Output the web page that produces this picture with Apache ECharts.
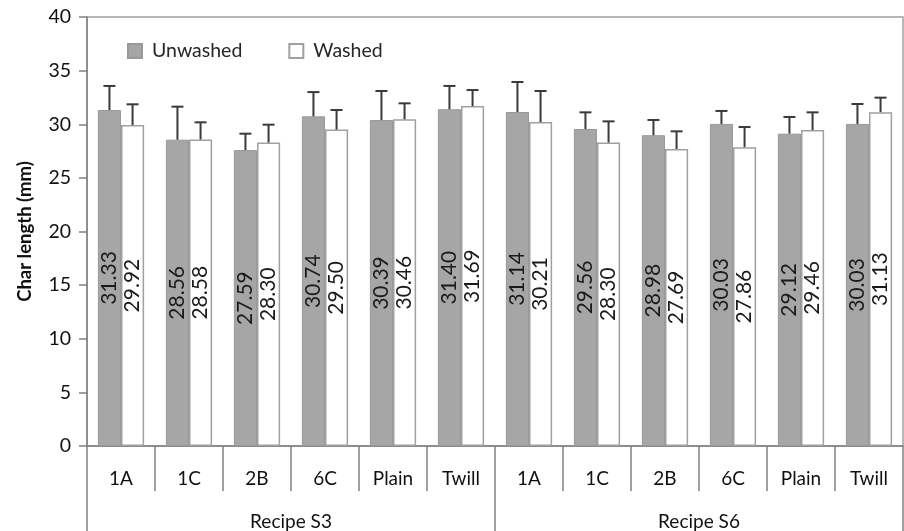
<!DOCTYPE html>
<html>
<head>
<meta charset="utf-8">
<script src="https://cdn.jsdelivr.net/npm/echarts@6/dist/echarts.min.js"></script>
<style>html,body{margin:0;padding:0;background:#fff}#c{width:904px;height:531px}</style>
</head>
<body>
<div id="c"></div>
<script>
const categories = ['1A','1C','2B','6C','Plain','Twill','1A','1C','2B','6C','Plain','Twill'];
const groups = ['Recipe S3','Recipe S6'];
const unwashed = [31.33,28.56,27.59,30.74,30.39,31.40,31.14,29.56,28.98,30.03,29.12,30.03];
const washed = [29.92,28.58,28.30,29.50,30.46,31.69,30.21,28.30,27.69,27.86,29.46,31.13];
const unwashedErr = [2.24,3.08,1.53,2.26,2.71,2.17,2.80,1.55,1.42,1.21,1.56,1.86];
const washedErr = [1.94,1.60,1.66,1.83,1.49,1.50,2.89,1.97,1.65,1.88,1.65,1.35];
const yTicks = {min:0,max:40,interval:5};

const FONT = 'Lato';
const chart = echarts.init(document.getElementById('c'));

function errSeries(name, vals, errs, side){
  return {
    type:'custom', name: name+' err', z:5, silent:true,
    data: vals.map((v,i)=>[i, v, v+errs[i]]),
    encode:{x:0,y:[1,2]},
    renderItem:function(params, api){
      const i = api.value(0);
      const bw = api.size([1,0])[0];
      const p0 = api.coord([i, api.value(1)]);
      const p1 = api.coord([i, api.value(2)]);
      const x = p0[0] + side*bw*0.17;
      const cap = 6;
      const st = {stroke:'#3a3a3a', lineWidth:2};
      return {type:'group', children:[
        {type:'line', shape:{x1:x,y1:p0[1],x2:x,y2:p1[1]}, style:st},
        {type:'line', shape:{x1:x-cap,y1:p1[1],x2:x+cap,y2:p1[1]}, style:st}
      ]};
    }
  };
}

const labelCfg = {
  show:true, position:'inside', rotate:90, fontFamily:FONT, fontSize:21, color:'#1a1a1a',
  formatter:p=>Number(p.value).toFixed(2)
};

chart.setOption({
  animation:false,
  textStyle:{fontFamily:FONT},
  grid:{left:87,right:1,top:17,bottom:85,show:true,borderColor:'#a0a0a0',borderWidth:1.5,containLabel:false},
  legend:{
    top:36,left:122,itemWidth:14,itemHeight:14,itemGap:46,
    textStyle:{fontFamily:FONT,fontSize:19.5,color:'#262626',padding:[0,0,0,5]},
    data:[{name:'Unwashed',icon:'rect'},{name:'Washed',icon:'rect'}]
  },
  xAxis:[
    {type:'category', data:categories, position:'bottom',
     axisLine:{lineStyle:{color:'#808080',width:1.5}},
     axisTick:{show:true,interval:0,length:45,alignWithLabel:false,lineStyle:{color:'#808080',width:1.5}},
     axisLabel:{interval:0,margin:23,fontFamily:FONT,fontSize:19,color:'#111'}},
    {type:'category', data:groups, position:'bottom',
     axisLine:{show:false},
     axisTick:{show:true,interval:0,length:86,alignWithLabel:false,lineStyle:{color:'#808080',width:1.5}},
     axisLabel:{interval:0,margin:66,fontFamily:FONT,fontSize:19,color:'#111'}}
  ],
  yAxis:{
    type:'value', min:yTicks.min, max:yTicks.max, interval:yTicks.interval,
    name:'Char length (mm)', nameLocation:'middle', nameGap:52,
    nameTextStyle:{fontFamily:FONT,fontSize:18.5,fontWeight:'bold',color:'#111'},
    axisLine:{show:true,lineStyle:{color:'#808080',width:1.5}},
    axisTick:{show:true,length:8,lineStyle:{color:'#808080',width:1.5}},
    axisLabel:{fontFamily:FONT,fontSize:19.5,color:'#111',margin:16},
    splitLine:{show:false}
  },
  series:[
    {type:'bar', name:'Unwashed', data:unwashed, barWidth:'34%', barGap:'0%',
     itemStyle:{color:'#a6a6a6',borderColor:'#999',borderWidth:1}, label:labelCfg},
    {type:'bar', name:'Washed', data:washed, barWidth:'34%', barGap:'0%',
     itemStyle:{color:'#ffffff',borderColor:'#a0a0a0',borderWidth:1.5}, label:labelCfg},
    errSeries('Unwashed', unwashed, unwashedErr, -1),
    errSeries('Washed', washed, washedErr, 1)
  ]
});
</script>
</body>
</html>
